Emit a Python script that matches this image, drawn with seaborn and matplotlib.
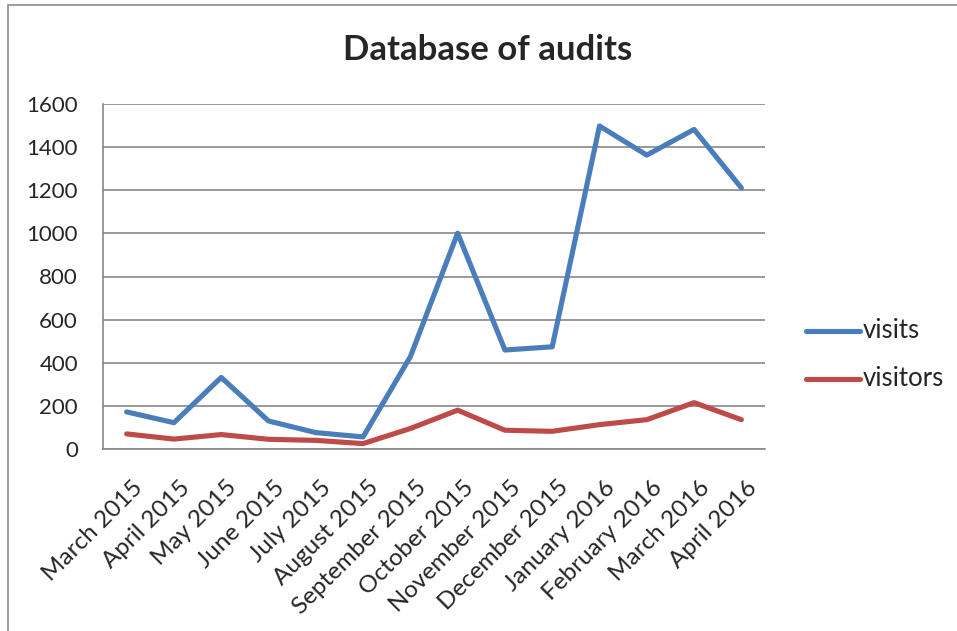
import pandas as pd
import matplotlib.pyplot as plt
import matplotlib.transforms as mtransforms
import seaborn as sns
from matplotlib.patches import Rectangle

months = ['March 2015', 'April 2015', 'May 2015', 'June 2015', 'July 2015',
          'August 2015', 'September 2015', 'October 2015', 'November 2015',
          'December 2015', 'January 2016', 'February 2016', 'March 2016', 'April 2016']
visits = [172, 122, 332, 130, 76, 56, 428, 1001, 459, 474, 1498, 1363, 1482, 1211]
visitors = [70, 46, 67, 45, 40, 25, 95, 180, 87, 82, 113, 136, 215, 136]

df = pd.DataFrame({'month': months, 'visits': visits, 'visitors': visitors})
df['pos'] = range(len(months))
long = df.melt(id_vars=['month', 'pos'], value_vars=['visits', 'visitors'],
               var_name='series', value_name='value')

sns.set_style('white')
plt.rcParams['font.family'] = ['Lato', 'DejaVu Sans']

fig = plt.figure(figsize=(9.57, 6.31), dpi=100)
ax = fig.add_axes([103 / 957, 1 - 449 / 631, (765 - 103) / 957, (449 - 104) / 631])

sns.lineplot(data=long, x='pos', y='value', hue='series',
             palette={'visits': '#4a7ebb', 'visitors': '#be4b48'},
             linewidth=3.7, ax=ax, legend=False)

ax.set_xlim(-0.5, len(months) - 0.5)
ax.set_ylim(0, 1600)
ax.set_yticks(range(0, 1601, 200))
ax.set_xticks(range(len(months)))
ax.set_xticklabels(months, rotation=45, ha='right', rotation_mode='anchor', fontsize=17.5)
ax.tick_params(axis='y', labelsize=16, pad=18, length=0)
ax.tick_params(axis='x', pad=20, length=0)
shift = mtransforms.ScaledTranslation(5 / 100, 0, fig.dpi_scale_trans)
for lab in ax.get_xticklabels():
    lab.set_transform(lab.get_transform() + shift)
ax.grid(axis='y', color='#888888', linewidth=1.2)
ax.set_axisbelow(True)
for s in ['top', 'right']:
    ax.spines[s].set_visible(False)
for s in ['left', 'bottom']:
    ax.spines[s].set_color('#888888')
    ax.spines[s].set_linewidth(1.2)
ax.set_xlabel('')
ax.set_ylabel('')

fig.text(488 / 957, 1 - 50 / 631, 'Database of audits', ha='center', va='center',
         fontsize=25, fontweight='bold')

# legend on the right
for i, (name, col) in enumerate([('visits', '#4a7ebb'), ('visitors', '#be4b48')]):
    y = 1 - (331 + 48 * i) / 631
    fig.add_artist(plt.Line2D([806 / 957, 860 / 957], [y, y], color=col,
                              linewidth=3.7, solid_capstyle='round'))
    fig.text(863 / 957, y, name, va='center', ha='left', fontsize=18.5)

# chart frame
fig.add_artist(Rectangle((8 / 957, -0.1), 1.2, 1 - 5 / 631 + 0.1,
                         transform=fig.transFigure, fill=False,
                         edgecolor='#8c8c8c', linewidth=1.2))

plt.savefig('out.png', dpi=100)
